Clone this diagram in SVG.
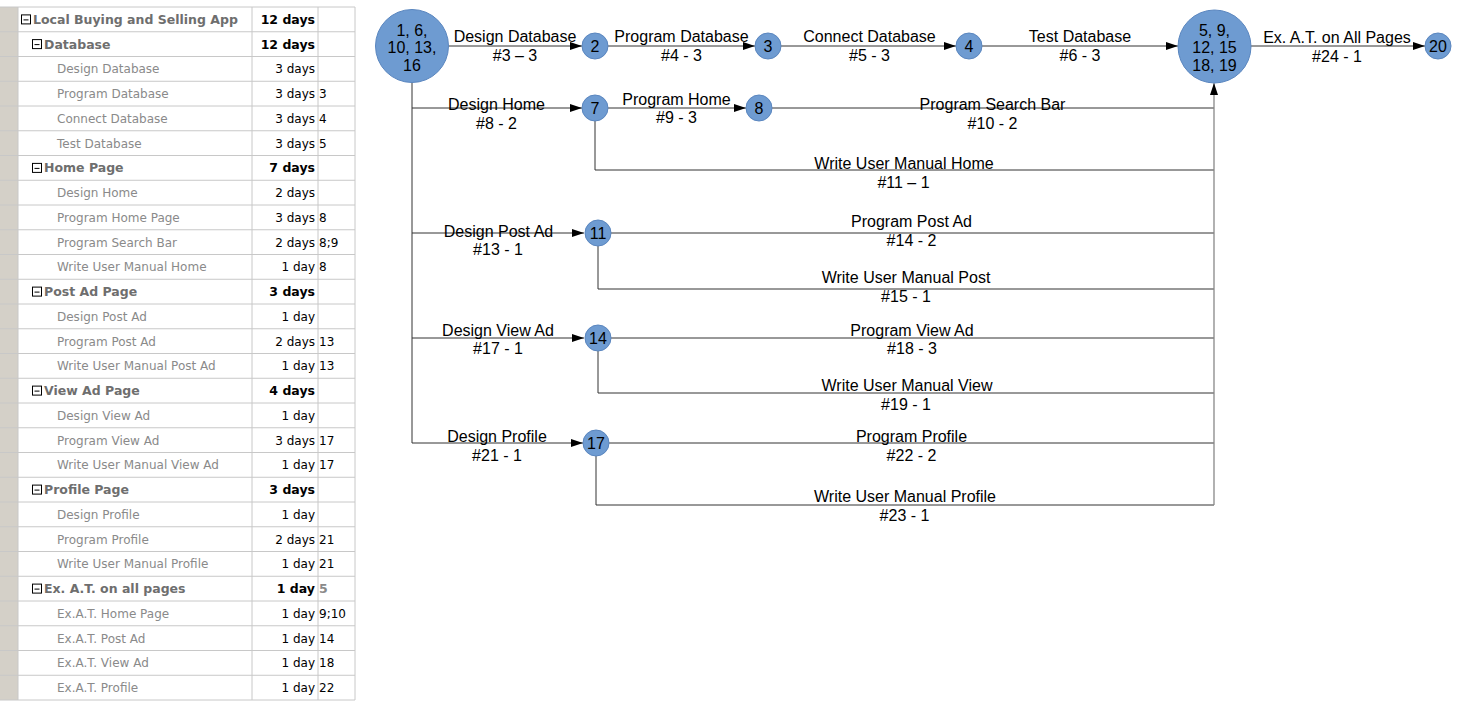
<svg xmlns="http://www.w3.org/2000/svg" width="1460" height="709" viewBox="0 0 1460 709">
<style>
.tn{font-family:"DejaVu Sans",Verdana,sans-serif;font-size:12px;fill:#8a8a8a}
.ts{font-family:"DejaVu Sans",Verdana,sans-serif;font-size:12.5px;font-weight:bold;fill:#6e6e6e}
.td{font-family:"DejaVu Sans",Verdana,sans-serif;font-size:12px;fill:#000;text-anchor:end}
.tdb{font-family:"DejaVu Sans",Verdana,sans-serif;font-size:12.5px;font-weight:bold;fill:#000;text-anchor:end}
.tp{font-family:"DejaVu Sans",Verdana,sans-serif;font-size:12px;fill:#000}
.tpb{font-family:"DejaVu Sans",Verdana,sans-serif;font-size:12.5px;font-weight:bold;fill:#8a8a8a}
.grid{stroke:#c8c8c8;stroke-width:1;fill:none}
.lbl{font-family:"Liberation Sans",Arial,sans-serif;font-size:16px;fill:#000;text-anchor:middle}
.nd{fill:#6e9bd1;stroke:#5a86bf;stroke-width:1}
.nt{font-family:"Liberation Sans",Arial,sans-serif;font-size:16px;fill:#000;text-anchor:middle}
.c{stroke:#333;stroke-width:1;fill:none}
.cg{stroke:#888;stroke-width:1.3;fill:none}
</style>
<defs>
<marker id="arr" markerUnits="userSpaceOnUse" markerWidth="13" markerHeight="9" refX="12" refY="4" orient="auto">
<path d="M0,0 L12,4 L0,8 z" fill="#000"/>
</marker>
<g id="minus"><rect x="0.5" y="0.5" width="9" height="9" fill="#fff" stroke="#000"/><path d="M2.5 5.5h5" stroke="#000"/></g>
</defs>
<rect width="1460" height="709" fill="#fff"/>

<g id="table">
<rect x="0" y="7" width="18" height="693" fill="#d4d0c8"/>
<path class="grid" d="M0 7H355M0 31.75H355M0 56.5H355M0 81.25H355M0 106H355M0 130.75H355M0 155.5H355M0 180.25H355M0 205H355M0 229.75H355M0 254.5H355M0 279.25H355M0 304H355M0 328.75H355M0 353.5H355M0 378.25H355M0 403H355M0 427.75H355M0 452.5H355M0 477.25H355M0 502H355M0 526.75H355M0 551.5H355M0 576.25H355M0 601H355M0 625.75H355M0 650.5H355M0 675.25H355M0 700H355M18 7V700M252 7V700M318 7V700M355 7V700"/>
<use href="#minus" x="21" y="14.4"/>
<use href="#minus" x="32" y="39.1"/>
<use href="#minus" x="32" y="162.9"/>
<use href="#minus" x="32" y="286.6"/>
<use href="#minus" x="32" y="385.6"/>
<use href="#minus" x="32" y="484.6"/>
<use href="#minus" x="32" y="583.6"/>
<text class="ts" x="33" y="23.9">Local Buying and Selling App</text><text class="tdb" x="315" y="23.9">12 days</text>
<text class="ts" x="44" y="48.6">Database</text><text class="tdb" x="315" y="48.6">12 days</text>
<text class="tn" x="57" y="73.4">Design Database</text><text class="td" x="315" y="73.4">3 days</text>
<text class="tn" x="57" y="98.1">Program Database</text><text class="td" x="315" y="98.1">3 days</text><text class="tp" x="319" y="98.1">3</text>
<text class="tn" x="57" y="122.9">Connect Database</text><text class="td" x="315" y="122.9">3 days</text><text class="tp" x="319" y="122.9">4</text>
<text class="tn" x="57" y="147.6">Test Database</text><text class="td" x="315" y="147.6">3 days</text><text class="tp" x="319" y="147.6">5</text>
<text class="ts" x="44" y="172.4">Home Page</text><text class="tdb" x="315" y="172.4">7 days</text>
<text class="tn" x="57" y="197.1">Design Home</text><text class="td" x="315" y="197.1">2 days</text>
<text class="tn" x="57" y="221.9">Program Home Page</text><text class="td" x="315" y="221.9">3 days</text><text class="tp" x="319" y="221.9">8</text>
<text class="tn" x="57" y="246.6">Program Search Bar</text><text class="td" x="315" y="246.6">2 days</text><text class="tp" x="319" y="246.6">8;9</text>
<text class="tn" x="57" y="271.4">Write User Manual Home</text><text class="td" x="315" y="271.4">1 day</text><text class="tp" x="319" y="271.4">8</text>
<text class="ts" x="44" y="296.1">Post Ad Page</text><text class="tdb" x="315" y="296.1">3 days</text>
<text class="tn" x="57" y="320.9">Design Post Ad</text><text class="td" x="315" y="320.9">1 day</text>
<text class="tn" x="57" y="345.6">Program Post Ad</text><text class="td" x="315" y="345.6">2 days</text><text class="tp" x="319" y="345.6">13</text>
<text class="tn" x="57" y="370.4">Write User Manual Post Ad</text><text class="td" x="315" y="370.4">1 day</text><text class="tp" x="319" y="370.4">13</text>
<text class="ts" x="44" y="395.1">View Ad Page</text><text class="tdb" x="315" y="395.1">4 days</text>
<text class="tn" x="57" y="419.9">Design View Ad</text><text class="td" x="315" y="419.9">1 day</text>
<text class="tn" x="57" y="444.6">Program View Ad</text><text class="td" x="315" y="444.6">3 days</text><text class="tp" x="319" y="444.6">17</text>
<text class="tn" x="57" y="469.4">Write User Manual View Ad</text><text class="td" x="315" y="469.4">1 day</text><text class="tp" x="319" y="469.4">17</text>
<text class="ts" x="44" y="494.1">Profile Page</text><text class="tdb" x="315" y="494.1">3 days</text>
<text class="tn" x="57" y="518.9">Design Profile</text><text class="td" x="315" y="518.9">1 day</text>
<text class="tn" x="57" y="543.6">Program Profile</text><text class="td" x="315" y="543.6">2 days</text><text class="tp" x="319" y="543.6">21</text>
<text class="tn" x="57" y="568.4">Write User Manual Profile</text><text class="td" x="315" y="568.4">1 day</text><text class="tp" x="319" y="568.4">21</text>
<text class="ts" x="44" y="593.1">Ex. A.T. on all pages</text><text class="tdb" x="315" y="593.1">1 day</text><text class="tpb" x="319" y="593.1">5</text>
<text class="tn" x="57" y="617.9">Ex.A.T. Home Page</text><text class="td" x="315" y="617.9">1 day</text><text class="tp" x="319" y="617.9">9;10</text>
<text class="tn" x="57" y="642.6">Ex.A.T. Post Ad</text><text class="td" x="315" y="642.6">1 day</text><text class="tp" x="319" y="642.6">14</text>
<text class="tn" x="57" y="667.4">Ex.A.T. View Ad</text><text class="td" x="315" y="667.4">1 day</text><text class="tp" x="319" y="667.4">18</text>
<text class="tn" x="57" y="692.1">Ex.A.T. Profile</text><text class="td" x="315" y="692.1">1 day</text><text class="tp" x="319" y="692.1">22</text>
</g>

<g id="connectors">
<path class="c" d="M449 46H582" marker-end="url(#arr)"/>
<path class="c" d="M608 46H755" marker-end="url(#arr)"/>
<path class="c" d="M781 46H956" marker-end="url(#arr)"/>
<path class="c" d="M982 46H1178" marker-end="url(#arr)"/>
<path class="c" d="M1251 46H1425" marker-end="url(#arr)"/>
<path class="c" d="M412 83V443"/>
<path class="c" d="M412 108H582" marker-end="url(#arr)"/>
<path class="c" d="M412 233H584" marker-end="url(#arr)"/>
<path class="c" d="M412 338H584" marker-end="url(#arr)"/>
<path class="c" d="M412 443H583" marker-end="url(#arr)"/>
<path class="c" d="M608 108H746" marker-end="url(#arr)"/>
<path class="c" d="M772 108H1214"/>
<path class="c" d="M595 121V170H1214"/>
<path class="c" d="M611 233H1214"/>
<path class="c" d="M598 246V289H1214"/>
<path class="c" d="M611 338H1214"/>
<path class="c" d="M598 351V393H1214"/>
<path class="c" d="M609 443H1214"/>
<path class="c" d="M596 456V505H1214"/>
<path class="cg" d="M1214 505V83" marker-end="url(#arr)"/>
<text class="lbl" x="515" y="42">Design Database</text><text class="lbl" x="515" y="61">#3 – 3</text>
<text class="lbl" x="681.5" y="42">Program Database</text><text class="lbl" x="681.5" y="61">#4 - 3</text>
<text class="lbl" x="869.5" y="42">Connect Database</text><text class="lbl" x="869.5" y="61">#5 - 3</text>
<text class="lbl" x="1080" y="42">Test Database</text><text class="lbl" x="1080" y="61">#6 - 3</text>
<text class="lbl" x="1337" y="43">Ex. A.T. on All Pages</text><text class="lbl" x="1337" y="61.5">#24 - 1</text>
<text class="lbl" x="496.5" y="110">Design Home</text><text class="lbl" x="496.5" y="129">#8 - 2</text>
<text class="lbl" x="676.5" y="105">Program Home</text><text class="lbl" x="676.5" y="123">#9 - 3</text>
<text class="lbl" x="992.5" y="110">Program Search Bar</text><text class="lbl" x="992.5" y="129">#10 - 2</text>
<text class="lbl" x="904" y="169">Write User Manual Home</text><text class="lbl" x="903.5" y="188">#11 – 1</text>
<text class="lbl" x="498.5" y="236.5">Design Post Ad</text><text class="lbl" x="498" y="255">#13 - 1</text>
<text class="lbl" x="911.5" y="227">Program Post Ad</text><text class="lbl" x="911.5" y="246">#14 - 2</text>
<text class="lbl" x="906" y="283">Write User Manual Post</text><text class="lbl" x="906" y="301.5">#15 - 1</text>
<text class="lbl" x="498" y="335.5">Design View Ad</text><text class="lbl" x="498" y="354">#17 - 1</text>
<text class="lbl" x="912" y="335.5">Program View Ad</text><text class="lbl" x="912" y="354">#18 - 3</text>
<text class="lbl" x="907" y="390.5">Write User Manual View</text><text class="lbl" x="906" y="409.5">#19 - 1</text>
<text class="lbl" x="497" y="442">Design Profile</text><text class="lbl" x="497" y="461">#21 - 1</text>
<text class="lbl" x="911.5" y="442">Program Profile</text><text class="lbl" x="911.5" y="461">#22 - 2</text>
<text class="lbl" x="905" y="501.5">Write User Manual Profile</text><text class="lbl" x="904.5" y="520.5">#23 - 1</text>
</g>

<g id="node-start"><circle class="nd" cx="412" cy="46" r="36.5"/><text class="nt" x="412" y="35.5">1, 6,</text><text class="nt" x="412" y="53">10, 13,</text><text class="nt" x="412" y="71">16</text></g>
<g id="node-2"><circle class="nd" cx="595" cy="46" r="13"/><text class="nt" x="595" y="51.7">2</text></g>
<g id="node-3"><circle class="nd" cx="768" cy="46" r="13"/><text class="nt" x="768" y="51.7">3</text></g>
<g id="node-4"><circle class="nd" cx="969" cy="46" r="13"/><text class="nt" x="969" y="51.7">4</text></g>
<g id="node-end"><circle class="nd" cx="1214.5" cy="46.5" r="36.5"/><text class="nt" x="1214.5" y="35.5">5, 9,</text><text class="nt" x="1214.5" y="53">12, 15</text><text class="nt" x="1214.5" y="71">18, 19</text></g>
<g id="node-20"><circle class="nd" cx="1438" cy="46" r="13"/><text class="nt" x="1438" y="51.7">20</text></g>
<g id="node-7"><circle class="nd" cx="595" cy="108" r="13"/><text class="nt" x="595" y="113.7">7</text></g>
<g id="node-8"><circle class="nd" cx="759" cy="108" r="13"/><text class="nt" x="759" y="113.7">8</text></g>
<g id="node-11"><circle class="nd" cx="598" cy="233" r="13"/><text class="nt" x="598" y="238.7">11</text></g>
<g id="node-14"><circle class="nd" cx="598" cy="338" r="13"/><text class="nt" x="598" y="343.7">14</text></g>
<g id="node-17"><circle class="nd" cx="596" cy="443" r="13"/><text class="nt" x="596" y="448.7">17</text></g>
</svg>
